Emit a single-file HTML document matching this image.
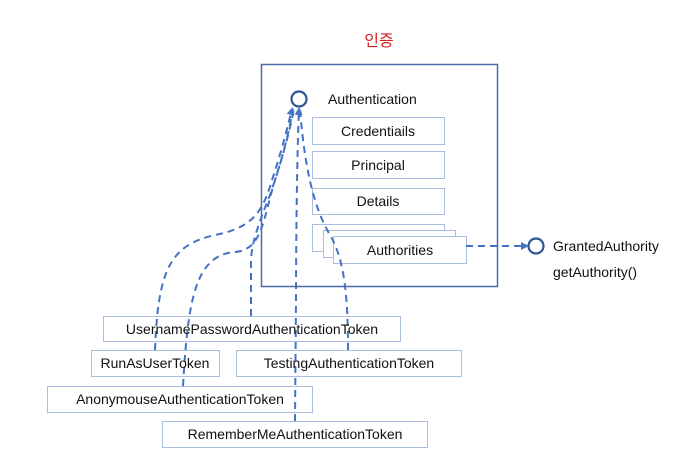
<!DOCTYPE html>
<html><head><meta charset="utf-8"><style>
body{margin:0;background:#fff;width:686px;height:448px;overflow:hidden;font-family:"Liberation Sans","Noto Sans CJK KR",sans-serif;}
</style></head><body>
<svg width="686" height="448" viewBox="0 0 686 448" xmlns="http://www.w3.org/2000/svg" font-family="Liberation Sans, Noto Sans CJK KR, sans-serif">
<defs><marker id="a" markerWidth="8" markerHeight="8" refX="6" refY="4" orient="auto" markerUnits="userSpaceOnUse"><path d="M0,0 L8,4 L0,8 Z" fill="#4472C4"/></marker></defs>
<text x="379" y="46" fill="#d42020" font-size="16" text-anchor="middle">인증</text>
<rect x="261.5" y="64.5" width="236" height="222" fill="none" stroke="#4a6aa8" stroke-width="1.5"/>
<circle cx="299" cy="99" r="7.5" fill="#fff" stroke="#2f5597" stroke-width="2.2"/>
<text x="328" y="104" font-size="14" fill="#111">Authentication</text>
<g fill="#fff" stroke="#a9bde0" stroke-width="1">
<rect x="312.5" y="117.5" width="132" height="27"/>
<rect x="312.5" y="151.5" width="132" height="27"/>
<rect x="312.5" y="188.5" width="132" height="26"/>
<rect x="312.5" y="224.5" width="132" height="27"/>
<rect x="323.5" y="230.5" width="132" height="27"/>
<rect x="333.5" y="236.5" width="133" height="27"/>
</g>
<g font-size="14" fill="#111" text-anchor="middle">
<text x="378" y="136">Credentiails</text>
<text x="378" y="170">Principal</text>
<text x="378" y="206">Details</text>
<text x="400" y="255">Authorities</text>
</g>
<circle cx="536" cy="246" r="7.5" fill="#fff" stroke="#2f5597" stroke-width="2.2"/>
<text x="553" y="251" font-size="14" fill="#111">GrantedAuthority</text>
<text x="553" y="277" font-size="14" fill="#111">getAuthority()</text>
<g fill="#fff" stroke="#a9bde0" stroke-width="1">
<rect x="103.5" y="316.5" width="297" height="25"/>
<rect x="91.5" y="350.5" width="128" height="26"/>
<rect x="236.5" y="350.5" width="225" height="26"/>
<rect x="47.5" y="386.5" width="265" height="26"/>
<rect x="162.5" y="421.5" width="265" height="26"/>
</g>
<g fill="none" stroke="#4472C4" stroke-width="2" stroke-dasharray="7,5">
<path d="M466,246 L527,246" marker-end="url(#a)"/>
<path d="M155,350 C158,270 170,245 215,235 C250,228 262,215 272,180 C282,150 288,125 292,109" marker-end="url(#a)"/>
<path d="M183,386 C188,300 195,255 235,252 C262,250 263,220 275,180 C285,150 290,125 293,109"/>
<path d="M251,316 L251,262 C251,245 258,225 270,195 C282,160 290,130 294,109"/>
<path d="M295,421 L296,300 C296,250 297,150 299,109" marker-end="url(#a)"/>
<path d="M348,350 C348,300 345,260 330,235 C312,205 304,160 300,109"/>
</g>
<g font-size="14" fill="#111" text-anchor="middle">
<text x="252" y="334">UsernamePasswordAuthenticationToken</text>
<text x="155" y="368">RunAsUserToken</text>
<text x="349" y="368">TestingAuthenticationToken</text>
<text x="180" y="404">AnonymouseAuthenticationToken</text>
<text x="295" y="439">RememberMeAuthenticationToken</text>
</g>
</svg>
</body></html>
